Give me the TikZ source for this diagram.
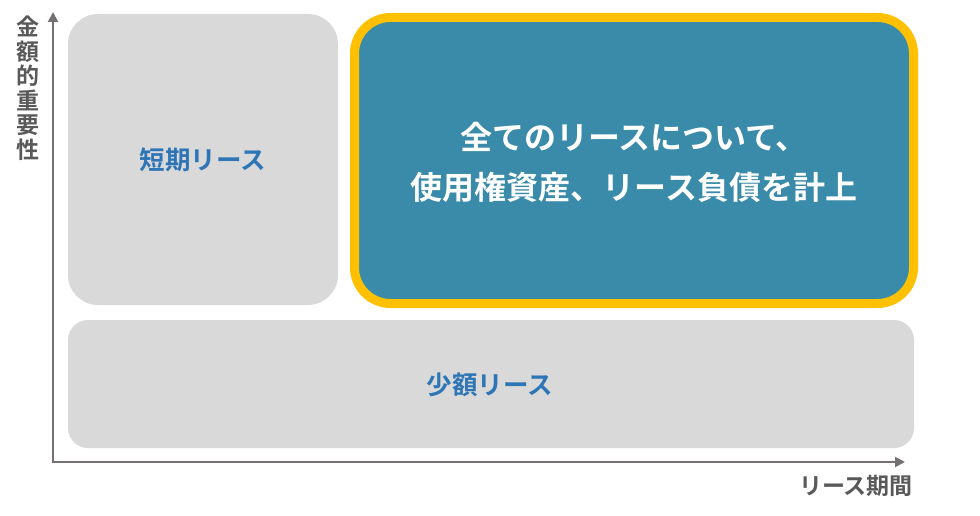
\documentclass[tikz,border=0pt]{standalone}
\usepackage{fontspec}
\setmainfont{Noto Sans CJK JP}[BoldFont={* Bold}]
\newfontfamily\jpb{Noto Sans CJK JP Bold}
\usetikzlibrary{arrows.meta}
\definecolor{boxgray}{HTML}{D9D9D9}
\definecolor{teal}{HTML}{3A8BA9}
\definecolor{gold}{HTML}{FFC000}
\definecolor{bluetxt}{HTML}{2E75B6}
\definecolor{labgray}{HTML}{595959}
\definecolor{axgray}{HTML}{767171}
\tikzset{
  graybox/.style={fill=boxgray, draw=none},
  boxtext/.style={font=\jpb\fontsize{25.5}{28}\selectfont, text=bluetxt},
  axis/.style={draw=axgray, line width=2pt, -{Triangle[length=10pt,width=10pt]}},
  axlabel/.style={font=\jpb\fontsize{23}{24.5}\selectfont, text=labgray, align=center, inner sep=0pt},
}
\begin{document}
\begin{tikzpicture}[x=1pt,y=-1pt]
\useasboundingbox (0,0) rectangle (980,516);
% boxes
\path[graybox, rounded corners=30pt] (68,14) rectangle (338,305);
\path[graybox, rounded corners=20pt] (68,320) rectangle (914,448);
\draw[fill=teal, draw=gold, line width=9pt, rounded corners=36pt] (354.5,17.5) rectangle (913.5,303.5);
% texts
\node[boxtext] (short) at (203,160) {短期リース};
\node[boxtext] (small) at (490,385) {少額リース};
\node[font=\jpb\fontsize{32}{50}\selectfont, text=white, align=center] (main) at (634,162) {全てのリースについて、\\使用権資産、リース負債を計上};
% axes
\coordinate (O) at (53,462);
\coordinate (Ytip) at (53,12);
\coordinate (Xtip) at (905,462);
\draw[axis] ([yshift=1pt]O) -- (Ytip);
\draw[axis] ([xshift=-1pt]O) -- (Xtip);
\node[axlabel] (ylab) at (28,88) {金\\額\\的\\重\\要\\性};
\node[axlabel] (xlab) at (856,486) {リース期間};
\end{tikzpicture}
\end{document}
